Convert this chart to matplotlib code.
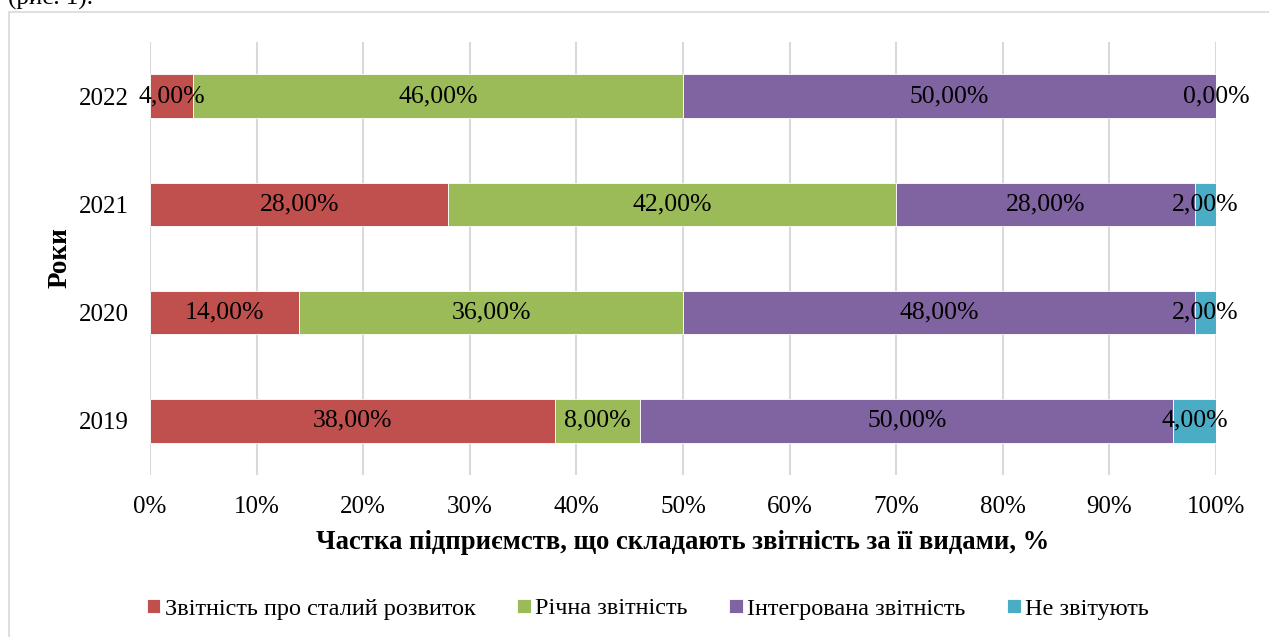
import numpy as np
import matplotlib.pyplot as plt
from matplotlib.patches import Rectangle

plt.rcParams['font.family'] = ['Liberation Serif', 'DejaVu Serif']

# Дані: частка підприємств за видами звітності, %
роки = ['2019', '2020', '2021', '2022']
сталий_розвиток = [38, 14, 28, 4]
річна = [8, 36, 42, 46]
інтегрована = [50, 48, 28, 50]
не_звітують = [4, 2, 2, 0]

серії = [
    ('Звітність про сталий розвиток', сталий_розвиток, '#C0504D'),
    ('Річна звітність', річна, '#9BBB59'),
    ('Інтегрована звітність', інтегрована, '#8064A2'),
    ('Не звітують', не_звітують, '#4BACC6'),
]

fig = plt.figure(figsize=(12.69, 6.37), dpi=100)
ax = fig.add_axes([150/1269, 1-475/637, 1066/1269, 433/637])

# рамка діаграми
fig.patches.append(Rectangle((9/1269, -0.05), 1.1, 1-12/637+0.05, transform=fig.transFigure,
                             fill=False, edgecolor='#d9d9d9', linewidth=1.2))
fig.text(8/1269, 1-5/637, '(рис. 1).', fontsize=18, va='baseline', ha='left')

y = np.arange(len(роки))
зліва = np.zeros(len(роки))
for назва, значення, колір in серії:
    частки = np.array(значення) / 100
    бари = ax.barh(y, частки, left=зліва, height=0.4, color=колір,
                   edgecolor='white', linewidth=0.6, label=назва, zorder=3)
    підписи = ax.bar_label(бари, labels=[f'{v:.2f}%'.replace('.', ',') for v in значення],
                           label_type='center', fontsize=18.5, color='black', zorder=4)
    for п in підписи:
        п.set_y(п.get_position()[1] - 0.02)
    зліва += частки

ax.set_xlim(0, 1)
ax.set_ylim(-0.5, 3.5)
ax.set_xticks(np.arange(0, 1.01, 0.1))
ax.set_xticklabels([f'{int(round(t*100))}%' for t in np.arange(0, 1.01, 0.1)])
ax.set_yticks(y)
ax.set_yticklabels(роки)
ax.tick_params(axis='both', length=0, labelsize=18)
ax.tick_params(axis='y', pad=15)
ax.tick_params(axis='x', pad=15)
ax.grid(axis='x', color='#d9d9d9', linewidth=1.5, zorder=0)
for s in ax.spines.values():
    s.set_visible(False)

ax.set_xlabel('Частка підприємств, що складають звітність за її видами, %',
              fontsize=19.2, fontweight='bold', labelpad=9)
fig.text(60/1269, 1-258/637, 'Роки', rotation=90, fontsize=19.5, fontweight='bold',
         ha='center', va='center')

fig.legend(loc='center', bbox_to_anchor=(648/1269, 1-609/637), ncol=4, frameon=False,
           fontsize=17.5, handlelength=0.55, handleheight=0.55, handletextpad=0.2,
           columnspacing=1.7)

fig.savefig('out.png', dpi=100)
